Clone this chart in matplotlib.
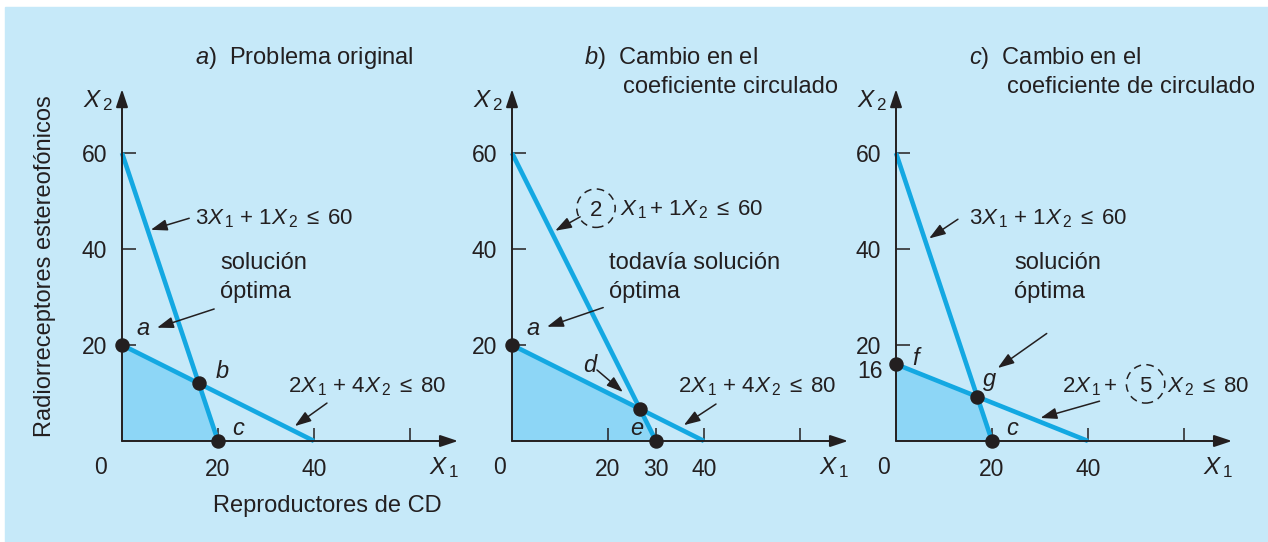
import numpy as np
import matplotlib.pyplot as plt
from matplotlib.patches import Circle, Rectangle

plt.rcParams['font.family'] = 'Liberation Sans'
plt.rcParams['mathtext.fontset'] = 'custom'
plt.rcParams['mathtext.rm'] = 'Liberation Sans'
plt.rcParams['mathtext.it'] = 'Liberation Sans:italic'

FONDO = '#c6e9f9'
AZUL = '#13a8e2'
RELLENO = '#8dd6f6'
NEGRO = '#231f20'

# coeficientes (a1, a2, b) de  a1*X1 + a2*X2 <= b, uno por panel
restr_1 = [(3, 1, 60), (2, 1, 60), (3, 1, 60)]
restr_2 = [(2, 4, 80), (2, 4, 80), (2, 5, 80)]
vertices = [('a', 'b', 'c'), ('a', 'd', 'e'), ('f', 'g', 'c')]
xticks = [[20, 40, 60], [20, 30, 40, 60], [20, 40, 60]]
xticklabels = [['20', '40', ''], ['20', '30', '40', ''], ['20', '40', '']]
yticks = [20, 40, 60]
yticklabels = ['20', '40', '60']
titulo_1 = ['$a$)  Problema original', '$b$)  Cambio en el', '$c$)  Cambio en el']
titulo_2 = ['', 'coeficiente circulado', 'coeficiente de circulado']
texto_opt = ['solución\nóptima', 'todavía solución\nóptima', 'solución\nóptima']

W, H = 1268, 542
S = 4.8            # pixeles por unidad
XLIM = (-20, 75)
YLIM = (-18, 82)
origen_x = [122, 512, 896]
origen_y = 441

fig = plt.figure(figsize=(W / 100, H / 100), dpi=100)
fig.add_artist(Rectangle((5 / W, 0), 1, 535 / H, transform=fig.transFigure,
                         color=FONDO, zorder=-10))

FS = 17
FS_EQ = 16
flecha = dict(arrowstyle='-|>,head_length=0.55,head_width=0.19', color=NEGRO,
              lw=1.1, mutation_scale=18, shrinkA=0, shrinkB=0)

EQ1 = r'$3X_{\,1}\ {+}\ 1X_{\,2}\;{\leq}\;60$'
EQ2 = r'$2X_{\,1}\ {+}\ 4X_{\,2}\;{\leq}\;80$'


def apuntar(ax, desde, hacia):
    ax.annotate('', xy=hacia, xytext=desde, arrowprops=flecha)


def texto(ax, x, y, s, **kw):
    kw.setdefault('fontsize', FS)
    kw.setdefault('ha', 'left')
    kw.setdefault('va', 'baseline')
    ax.text(x, y, s, color=NEGRO, **kw)


for i, ox in enumerate(origen_x):
    ax = fig.add_axes([(ox + XLIM[0] * S) / W,
                       (H - origen_y + YLIM[0] * S) / H,
                       (XLIM[1] - XLIM[0]) * S / W,
                       (YLIM[1] - YLIM[0]) * S / H])
    ax.set_xlim(XLIM)
    ax.set_ylim(YLIM)
    ax.patch.set_alpha(0)
    for lado in ax.spines:
        ax.spines[lado].set_visible(False)
    ax.spines['left'].set_position(('data', 0))
    ax.spines['bottom'].set_position(('data', 0))
    ax.xaxis.set_ticks_position('bottom')
    ax.yaxis.set_ticks_position('left')
    ax.set_xticks(xticks[i], xticklabels[i])
    ax.set_yticks(yticks, yticklabels)
    ax.tick_params(axis='x', direction='in', length=9.4, width=1.1, color=NEGRO,
                   pad=12, labelsize=16.5, labelcolor=NEGRO)
    ax.tick_params(axis='y', direction='in', length=10, width=1.1, color=NEGRO,
                   pad=10.8, labelsize=16.5, labelcolor=NEGRO)

    a1, a2, b = restr_1[i]
    c1, c2, d = restr_2[i]
    inter = np.linalg.solve([[a1, a2], [c1, c2]], [b, d])
    poligono = np.array([[0, 0], [0, d / c2], inter, [b / a1, 0]])
    ax.fill(poligono[:, 0], poligono[:, 1], color=RELLENO, lw=0, zorder=1)
    ax.plot([0, b / a1], [b / a2, 0], color=AZUL, lw=3.3,
            solid_capstyle='butt', zorder=2)
    ax.plot([0, d / c1], [d / c2, 0], color=AZUL, lw=3.3,
            solid_capstyle='butt', zorder=2)

    # ejes con flecha
    eje = dict(arrowstyle='-|>,head_length=0.6,head_width=0.2', color=NEGRO,
               lw=1.4, mutation_scale=18, shrinkA=0, shrinkB=0)
    ax.annotate('', xy=(70, 0), xytext=(0, 0), arrowprops=eje, zorder=3)
    ax.annotate('', xy=(0, 73.3), xytext=(0, 0), arrowprops=eje, zorder=3)

    puntos = np.array([[0, d / c2], inter, [b / a1, 0]])
    ax.plot(puntos[:, 0], puntos[:, 1], 'o', color=NEGRO, ms=9.4, zorder=4)

    texto(ax, -8.1, 69.6, r'$X_{\,2}$', fontsize=17.5)
    texto(ax, 64, -6.9, r'$X_{\,1}$', fontsize=17.5)
    texto(ax, -4.4 if i == 0 else -2.5, -6.9, '0', fontsize=16.5, ha='center')

    if i == 0:
        texto(ax, 15.2, 78.6, titulo_1[i])
        texto(ax, -16, 36.5, 'Radiorreceptores estereofónicos',
              rotation=90, ha='center', va='center')
        texto(ax, 42.7, -14.8, 'Reproductores de CD', ha='center')
        texto(ax, 15.2, 45.2, EQ1, fontsize=FS_EQ)
        apuntar(ax, (14, 46.4), (6.0, 44))
        texto(ax, 20.4, 29.8, texto_opt[i], linespacing=1.4)
        apuntar(ax, (19.2, 27.5), (7.3, 23.6))
        texto(ax, 34.6, 10.2, EQ2, fontsize=FS_EQ)
        apuntar(ax, (42.7, 7.9), (36, 3.1))
        etiquetas = [(4.4, 22.1), (20.8, 13.1), (24.2, 1.3)]
    elif i == 1:
        texto(ax, 15, 78.6, titulo_1[i])
        texto(ax, 23.1, 72.4, titulo_2[i])
        ax.add_patch(Circle((17.5, 48.5), 4, fill=False, ec=NEGRO, lw=1.1,
                            ls=(0, (5, 3.5))))
        texto(ax, 17.5, 48.5, '2', fontsize=FS_EQ, ha='center',
              va='center_baseline')
        texto(ax, 22.5, 46.9, r'$X_{\,1}\,{+}\ 1X_{\,2}\;{\leq}\;60$',
              fontsize=FS_EQ)
        apuntar(ax, (14.2, 46.7), (9.0, 43.8))
        texto(ax, 20.2, 29.8, texto_opt[i], linespacing=1.4)
        apuntar(ax, (19, 27.8), (7.3, 23.8))
        apuntar(ax, (17.7, 14.8), (23.1, 10.2))
        texto(ax, 34.6, 10.2, EQ2, fontsize=FS_EQ)
        apuntar(ax, (42.5, 7.7), (35.8, 3.3))
        etiquetas = [(4.4, 22.1), (16.25, 14.4), (25.9, 1.2)]
    else:
        texto(ax, 15.2, 78.6, titulo_1[i])
        texto(ax, 23.1, 72.4, titulo_2[i])
        # etiqueta 16 sin marca (queda bajo el punto f)
        texto(ax, -2.7, 15, '16', fontsize=16.5, ha='right',
              va='center_baseline')
        texto(ax, 15.2, 45.2, EQ1, fontsize=FS_EQ)
        apuntar(ax, (12.9, 46.2), (6.9, 42.2))
        texto(ax, 24.6, 29.8, texto_opt[i], linespacing=1.4)
        apuntar(ax, (31.4, 22.4), (21.2, 15.2))
        texto(ax, 34.6, 10.2, r'$2X_{\,1}\,{+}$', fontsize=FS_EQ)
        ax.add_patch(Circle((52, 11.9), 4, fill=False, ec=NEGRO, lw=1.1,
                            ls=(0, (5, 3.5))))
        texto(ax, 52, 11.9, '5', fontsize=FS_EQ, ha='center',
              va='center_baseline')
        texto(ax, 56.5, 10.2, r'$X_{\,2}\;{\leq}\;80$', fontsize=FS_EQ)
        apuntar(ax, (42.4, 8.3), (30.1, 4.8))
        etiquetas = [(4, 15.8), (19.4, 11.5), (24.1, 1.3)]

    for nombre, (x, y) in zip(vertices[i], etiquetas):
        texto(ax, x, y, nombre, ha='center', fontstyle='italic')

fig.savefig('out.png', dpi=100, facecolor='white')
